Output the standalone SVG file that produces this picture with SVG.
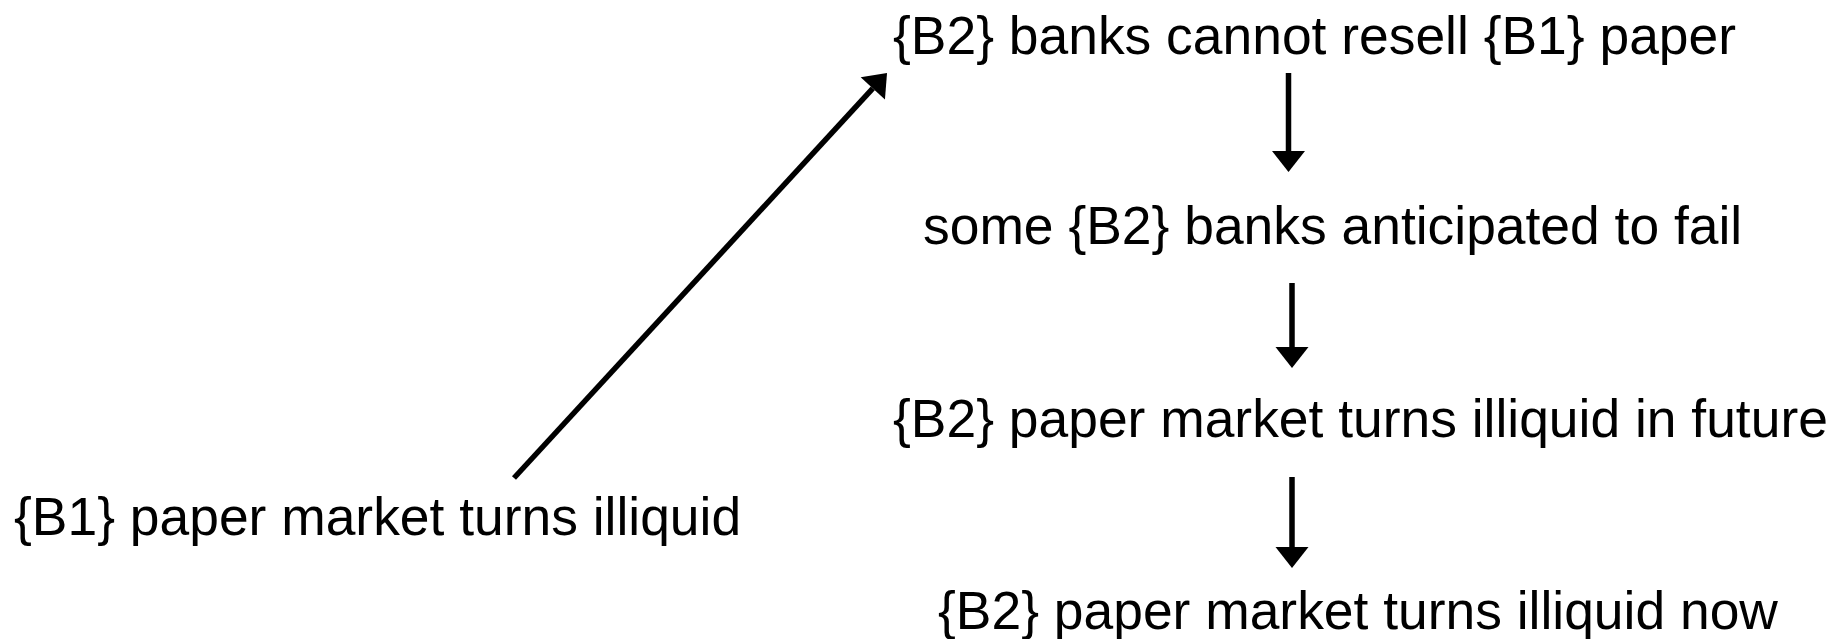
<svg xmlns="http://www.w3.org/2000/svg" width="1845" height="639" viewBox="0 0 1845 639">
<style>
.t{font-family:"Liberation Sans",Arial,sans-serif;font-size:53.4px;fill:#000}
.e{stroke:#000;stroke-width:5.5;fill:none;marker-end:url(#ah)}
</style>
<defs>
<marker id="ah" markerUnits="userSpaceOnUse" markerWidth="21" markerHeight="33" refX="0" refY="16.5" orient="auto" overflow="visible">
<path d="M0,0 L21,16.5 L0,33 Z" fill="#000"/>
</marker>
</defs>
<rect width="1845" height="639" fill="#fff"/>
<g id="connectors">
<line class="e" x1="514" y1="478" x2="872.8" y2="88.4"/>
<line class="e" x1="1288.5" y1="73" x2="1288.5" y2="151"/>
<line class="e" x1="1292" y1="283" x2="1292" y2="347"/>
<line class="e" x1="1292" y1="477" x2="1292" y2="547"/>
</g>
<g id="n1"><text class="t" x="893" y="54">{B2} banks cannot resell {B1} paper</text></g>
<g id="n2"><text class="t" x="923" y="244">some {B2} banks anticipated to fail</text></g>
<g id="n3"><text class="t" x="893" y="437">{B2} paper market turns illiquid in future</text></g>
<g id="n4"><text class="t" x="938" y="629">{B2} paper market turns illiquid now</text></g>
<g id="n5"><text class="t" x="14" y="535">{B1} paper market turns illiquid</text></g>
</svg>
